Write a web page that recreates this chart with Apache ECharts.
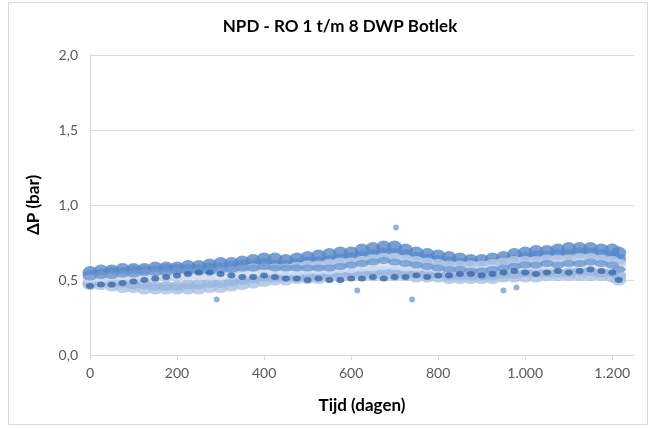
<!DOCTYPE html>
<html>
<head>
<meta charset="utf-8">
<script src="https://cdn.jsdelivr.net/npm/echarts@6/dist/echarts.min.js"></script>
<style>
  html, body { margin: 0; padding: 0; background: #fff; }
  #chart { width: 654px; height: 428px; }
</style>
</head>
<body>
<div id="chart"></div>
<script>
// dagen (x), elke 25 dagen + laatste meting
var days = [0, 25, 50, 75, 100, 125, 150, 175, 200, 225, 250, 275, 300, 325, 350, 375, 400, 425, 450, 475,
  500, 525, 550, 575, 600, 625, 650, 675, 700, 725, 750, 775, 800, 825, 850, 875, 900, 925, 950, 975,
  1000, 1025, 1050, 1075, 1100, 1125, 1150, 1175, 1200, 1215];

var ro1 = [0.46, 0.47, 0.47, 0.48, 0.49, 0.50, 0.51, 0.52, 0.53, 0.54, 0.55, 0.55, 0.54, 0.53, 0.52, 0.52, 0.53, 0.52, 0.51, 0.51,
  0.50, 0.51, 0.50, 0.50, 0.51, 0.51, 0.52, 0.51, 0.52, 0.52, 0.53, 0.52, 0.53, 0.53, 0.54, 0.54, 0.53, 0.54, 0.55, 0.56,
  0.55, 0.54, 0.55, 0.56, 0.55, 0.56, 0.57, 0.56, 0.55, 0.50];
var ro2 = [0.55, 0.56, 0.56, 0.57, 0.57, 0.57, 0.58, 0.58, 0.58, 0.59, 0.59, 0.60, 0.61, 0.61, 0.62, 0.63, 0.64, 0.64, 0.63, 0.64,
  0.65, 0.66, 0.67, 0.68, 0.68, 0.70, 0.71, 0.72, 0.72, 0.70, 0.68, 0.67, 0.66, 0.65, 0.64, 0.63, 0.63, 0.64, 0.65, 0.67,
  0.68, 0.69, 0.69, 0.70, 0.71, 0.71, 0.71, 0.70, 0.70, 0.68];
var ro3 = [0.53, 0.54, 0.55, 0.55, 0.56, 0.56, 0.56, 0.57, 0.57, 0.57, 0.57, 0.58, 0.58, 0.59, 0.60, 0.61, 0.61, 0.60, 0.60, 0.61,
  0.62, 0.62, 0.63, 0.64, 0.65, 0.66, 0.67, 0.68, 0.68, 0.67, 0.65, 0.64, 0.63, 0.62, 0.61, 0.61, 0.60, 0.61, 0.62, 0.63,
  0.65, 0.66, 0.66, 0.67, 0.67, 0.68, 0.68, 0.67, 0.66, 0.64];
var ro4 = [0.52, 0.53, 0.53, 0.54, 0.54, 0.55, 0.55, 0.55, 0.56, 0.56, 0.56, 0.56, 0.57, 0.57, 0.58, 0.58, 0.59, 0.58, 0.58, 0.58,
  0.58, 0.58, 0.58, 0.59, 0.60, 0.61, 0.62, 0.63, 0.62, 0.61, 0.60, 0.59, 0.58, 0.57, 0.57, 0.56, 0.56, 0.57, 0.58, 0.59,
  0.60, 0.60, 0.61, 0.60, 0.61, 0.61, 0.62, 0.61, 0.60, 0.57];
var ro5 = [0.48, 0.49, 0.48, 0.48, 0.47, 0.47, 0.46, 0.46, 0.46, 0.47, 0.47, 0.48, 0.48, 0.49, 0.50, 0.51, 0.52, 0.52, 0.52, 0.52,
  0.53, 0.53, 0.54, 0.54, 0.55, 0.55, 0.56, 0.56, 0.56, 0.55, 0.55, 0.54, 0.54, 0.53, 0.53, 0.53, 0.53, 0.53, 0.54, 0.54,
  0.55, 0.55, 0.55, 0.55, 0.55, 0.56, 0.56, 0.55, 0.55, 0.53];
var ro6 = [0.51, 0.51, 0.52, 0.52, 0.52, 0.52, 0.53, 0.53, 0.53, 0.52, 0.52, 0.52, 0.52, 0.53, 0.53, 0.54, 0.55, 0.55, 0.55, 0.55,
  0.56, 0.56, 0.56, 0.57, 0.57, 0.58, 0.58, 0.59, 0.59, 0.58, 0.58, 0.58, 0.57, 0.57, 0.57, 0.57, 0.57, 0.58, 0.58, 0.58,
  0.59, 0.59, 0.59, 0.60, 0.60, 0.60, 0.60, 0.59, 0.59, 0.57];
var ro7 = [0.47, 0.47, 0.46, 0.45, 0.45, 0.44, 0.44, 0.44, 0.44, 0.44, 0.44, 0.45, 0.45, 0.46, 0.47, 0.48, 0.49, 0.50, 0.50, 0.51,
  0.51, 0.51, 0.52, 0.52, 0.53, 0.53, 0.53, 0.53, 0.53, 0.53, 0.52, 0.52, 0.52, 0.51, 0.51, 0.51, 0.51, 0.51, 0.52, 0.52,
  0.52, 0.52, 0.53, 0.53, 0.53, 0.53, 0.53, 0.53, 0.52, 0.50];
var ro8 = [0.50, 0.50, 0.50, 0.51, 0.51, 0.51, 0.52, 0.52, 0.52, 0.53, 0.53, 0.54, 0.55, 0.56, 0.57, 0.58, 0.58, 0.58, 0.58, 0.59,
  0.60, 0.60, 0.61, 0.62, 0.62, 0.63, 0.64, 0.65, 0.65, 0.64, 0.63, 0.62, 0.61, 0.60, 0.60, 0.60, 0.60, 0.61, 0.62, 0.63,
  0.63, 0.63, 0.64, 0.64, 0.64, 0.65, 0.65, 0.64, 0.63, 0.61];

// losse uitschieters [dag, dP]
var outlierDays = [291, 373, 614, 703, 740, 950, 980];
var outlierVals = [0.37, 0.65, 0.43, 0.85, 0.37, 0.43, 0.45];

var seriesNames = ['RO 7', 'RO 5', 'RO 3', 'RO 2', 'RO 8', 'RO 6', 'RO 4', 'RO 1'];
var seriesVals = [ro7, ro5, ro3, ro2, ro8, ro6, ro4, ro1];
var seriesColors = ['#a9c2e4', '#98b5de', '#6692cf', '#5787c8', '#b6cbe8', '#d3e0f2', '#6d97d0', '#3a68a6'];
var seriesSizes = [[15, 11], [15, 10], [15, 11], [15, 13], [15, 9], [15, 7], [14, 7], [8, 6]];

function pairs(xs, ys) {
  var out = [];
  for (var i = 0; i < xs.length; i++) out.push([xs[i], ys[i]]);
  return out;
}

var series = [];
for (var s = 0; s < seriesNames.length; s++) {
  series.push({
    name: seriesNames[s],
    type: 'scatter',
    symbol: 'circle',
    symbolSize: seriesSizes[s],
    itemStyle: { color: seriesColors[s] },
    data: pairs(days, seriesVals[s]),
    silent: true
  });
}
series.push({
  name: 'uitschieters',
  type: 'scatter',
  symbol: 'circle',
  symbolSize: 6,
  itemStyle: { color: '#7d9fd0' },
  data: pairs(outlierDays, outlierVals),
  silent: true
});

var chart = echarts.init(document.getElementById('chart'));
var labelFont = 'Lato, "Open Sans", sans-serif';
chart.setOption({
  animation: false,
  backgroundColor: '#fff',
  title: {
    text: 'NPD - RO 1 t/m 8 DWP Botlek',
    left: 335, top: 13, textAlign: 'center',
    textStyle: { fontFamily: labelFont, fontSize: 17, fontWeight: 'bold', color: '#000' }
  },
  graphic: [{
    type: 'rect', silent: true, z: -1,
    shape: { x: 8.5, y: 2.5, width: 639, height: 422 },
    style: { fill: null, stroke: '#d9d9d9', lineWidth: 1 }
  }],
  grid: { left: 90, right: 20, top: 55, bottom: 73 },
  xAxis: {
    type: 'value', min: 0, max: 1250, interval: 200,
    name: 'Tijd (dagen)', nameLocation: 'middle', nameGap: 42,
    nameTextStyle: { fontFamily: labelFont, fontSize: 17, fontWeight: 'bold', color: '#000' },
    axisLine: { show: true, lineStyle: { color: '#d9d9d9' } },
    axisTick: { show: true, length: 5, lineStyle: { color: '#d9d9d9' } },
    splitLine: { show: false },
    axisLabel: {
      fontFamily: labelFont, fontSize: 14, color: '#595959', margin: 11, showMaxLabel: false,
      formatter: function (v) { return v >= 1000 ? (v / 1000).toFixed(3) : String(v); }
    }
  },
  yAxis: {
    type: 'value', min: 0, max: 2, interval: 0.5,
    name: 'ΔP (bar)', nameLocation: 'middle', nameGap: 48,
    nameTextStyle: { fontFamily: labelFont, fontSize: 17, fontWeight: 'bold', color: '#000' },
    axisLine: { show: true, lineStyle: { color: '#d9d9d9' } },
    axisTick: { show: false },
    splitLine: { lineStyle: { color: '#d9d9d9' } },
    axisLabel: {
      fontFamily: labelFont, fontSize: 14, color: '#595959', margin: 12,
      formatter: function (v) { return v.toFixed(1).replace('.', ','); }
    }
  },
  series: series
});
</script>
</body>
</html>
